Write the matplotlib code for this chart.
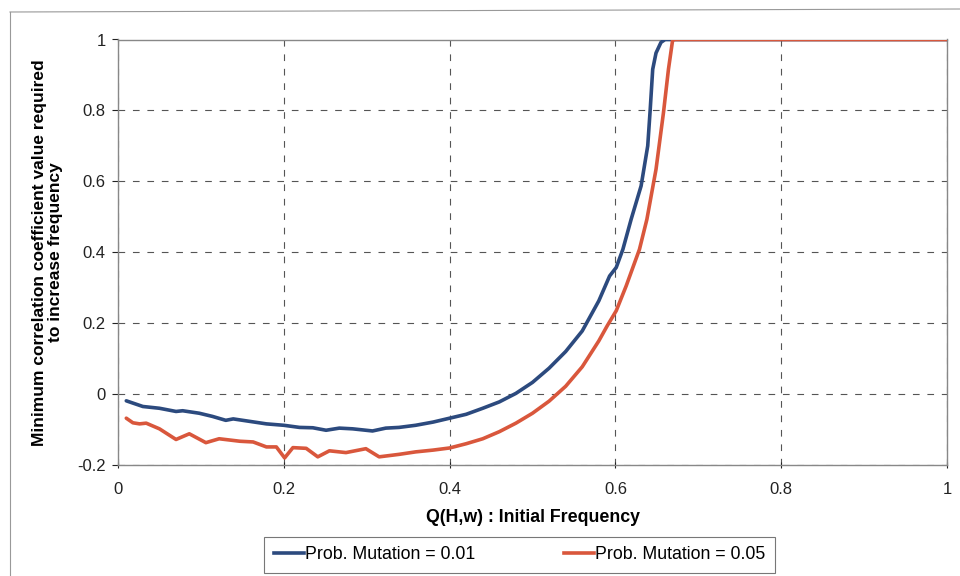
import matplotlib
matplotlib.use("Agg")
import matplotlib.pyplot as plt
from matplotlib.lines import Line2D

plt.rcParams['font.family'] = ['Liberation Sans', 'DejaVu Sans']

# Series: Prob. Mutation = 0.01
x_m01 = [0.01, 0.03, 0.05, 0.07, 0.078, 0.098, 0.114, 0.13, 0.139, 0.159, 0.179, 0.20,
         0.219, 0.235, 0.251, 0.267, 0.283, 0.307, 0.323, 0.339, 0.359, 0.38, 0.40, 0.42,
         0.44, 0.46, 0.48, 0.50, 0.52, 0.54, 0.56, 0.58, 0.593, 0.601, 0.609, 0.619,
         0.631, 0.639, 0.642, 0.645, 0.649, 0.655, 0.66, 1.0]
y_m01 = [-0.019, -0.035, -0.040, -0.049, -0.047, -0.054, -0.063, -0.074, -0.070, -0.077,
         -0.084, -0.088, -0.094, -0.095, -0.102, -0.096, -0.098, -0.104, -0.096, -0.094,
         -0.088, -0.079, -0.068, -0.057, -0.040, -0.022, 0.002, 0.033, 0.073, 0.120,
         0.178, 0.263, 0.333, 0.357, 0.408, 0.493, 0.587, 0.700, 0.803, 0.916, 0.962,
         0.992, 1.0, 1.0]

# Series: Prob. Mutation = 0.05
x_m05 = [0.01, 0.018, 0.026, 0.034, 0.05, 0.07, 0.086, 0.106, 0.122, 0.147, 0.163, 0.179,
         0.191, 0.201, 0.211, 0.227, 0.241, 0.255, 0.275, 0.299, 0.315, 0.339, 0.359, 0.38,
         0.40, 0.42, 0.44, 0.46, 0.48, 0.50, 0.52, 0.54, 0.56, 0.58, 0.59, 0.601, 0.613,
         0.629, 0.638, 0.649, 0.658, 0.664, 0.669, 0.672, 1.0]
y_m05 = [-0.068, -0.081, -0.084, -0.082, -0.098, -0.128, -0.112, -0.137, -0.126, -0.133,
         -0.135, -0.149, -0.149, -0.180, -0.151, -0.153, -0.177, -0.160, -0.165, -0.154,
         -0.177, -0.170, -0.163, -0.158, -0.152, -0.140, -0.126, -0.106, -0.082, -0.054,
         -0.020, 0.022, 0.077, 0.150, 0.192, 0.235, 0.305, 0.408, 0.493, 0.634, 0.794,
         0.916, 0.998, 1.0, 1.0]

labels = ["Prob. Mutation = 0.01", "Prob. Mutation = 0.05"]
colors = ["#2c4a7e", "#d9573c"]
x_ticks = [0, 0.2, 0.4, 0.6, 0.8, 1]
y_ticks = [-0.2, 0, 0.2, 0.4, 0.6, 0.8, 1]

fig = plt.figure(figsize=(9.6, 5.76), dpi=100)
fig.patch.set_facecolor("white")
ax = fig.add_axes([118/960, 1-465/576, (947-118)/960, (465-39.5)/576])

ax.plot(x_m01, y_m01, color=colors[0], lw=2.6, label=labels[0], zorder=3, solid_capstyle='round')
ax.plot(x_m05, y_m05, color=colors[1], lw=2.6, label=labels[1], zorder=3, solid_capstyle='round')

ax.set_xlim(0, 1)
ax.set_ylim(-0.2, 1)
ax.set_xticks(x_ticks)
ax.set_xticklabels(["0", "0.2", "0.4", "0.6", "0.8", "1"])
ax.set_yticks(y_ticks)
ax.set_yticklabels(["-0.2", "0", "0.2", "0.4", "0.6", "0.8", "1"])
ax.tick_params(axis='both', labelsize=12, colors="#222222", length=4, width=0.8)
ax.tick_params(axis='x', direction='inout', pad=10)
ax.tick_params(axis='y', direction='out', pad=5)

ax.grid(True, color="#555555", linestyle=(0, (6, 7)), linewidth=0.8)
for s in ax.spines.values():
    s.set_color("#888888")
    s.set_linewidth(1.0)

ax.set_xlabel("Q(H,w) : Initial Frequency", fontsize=12.8, fontweight='bold', labelpad=9)
ax.set_ylabel("Minimum correlation coefficient value required\nto increase frequency",
              fontsize=12.5, fontweight='bold', labelpad=10, linespacing=1.05)

handles = [Line2D([0], [0], color=colors[0], lw=2.6), Line2D([0], [0], color=colors[1], lw=2.6)]
leg = fig.legend(handles, labels, loc='lower center', bbox_to_anchor=(0.541, 0.005),
                 borderaxespad=0, ncol=2, frameon=True, fancybox=False, fontsize=12.8,
                 handlelength=1.7, handletextpad=0.05, columnspacing=5.0, borderpad=0.55)
leg.get_frame().set_edgecolor("#555555")
leg.get_frame().set_linewidth(0.8)

# outer chart frame (left and top edges)
fig.add_artist(Line2D([10/960, 10/960], [0, 1-12/576], color="#999999", lw=0.8, transform=fig.transFigure))
fig.add_artist(Line2D([10/960, 1], [1-12/576, 1-9/576], color="#999999", lw=0.8, transform=fig.transFigure))

fig.savefig("out.png", dpi=100)
